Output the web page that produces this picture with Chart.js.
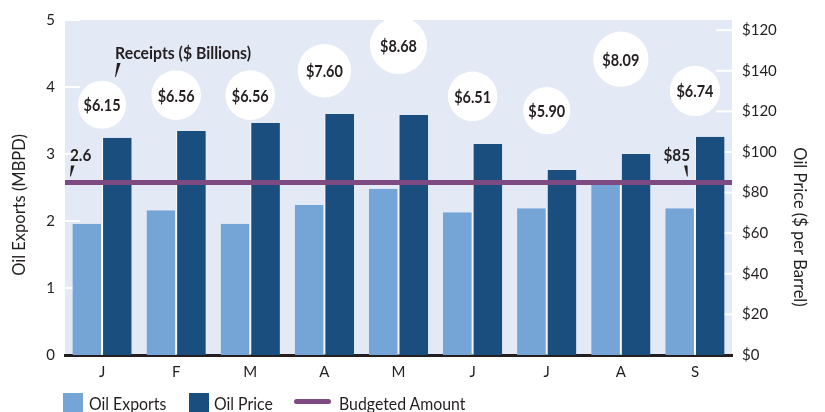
<!DOCTYPE html>
<html><head><meta charset="utf-8">
<script src="https://cdn.jsdelivr.net/npm/chart.js@4/dist/chart.umd.min.js"></script>
<style>
html,body{margin:0;padding:0;background:#fff;}
#wrap{position:relative;width:825px;height:412px;overflow:hidden;font-family:Lato,sans-serif;color:#231f20;}
#c{position:absolute;left:0;top:0;}
.lg{position:absolute;top:393px;font-size:18px;line-height:20px;white-space:nowrap;transform:scaleX(0.88);transform-origin:0 0;}
.sw{position:absolute;top:393px;width:20px;height:20px;}
.ln{position:absolute;top:399px;height:5px;border-radius:3px;background:#7d4b82;}
</style></head>
<body><div id="wrap"><canvas id="c" width="825" height="412"></canvas>
<div class="sw" style="left:63px;background:#74a5d6"></div><div class="lg" style="left:89px">Oil Exports</div>
<div class="sw" style="left:189px;background:#1a4e7e"></div><div class="lg" style="left:214px">Oil Price</div>
<div class="ln" style="left:294px;width:37px"></div><div class="lg" style="left:339px">Budgeted Amount</div>
</div>
<script>
const months = ['J','F','M','A','M','J','J','A','S'];
const oilExports = [1.96, 2.16, 1.96, 2.24, 2.48, 2.13, 2.19, 2.54, 2.19];
const oilPrice = [107.0, 110.3, 114.3, 118.7, 118.2, 103.9, 91.1, 99.0, 107.5];
const receipts = [6.15, 6.56, 6.56, 7.60, 8.68, 6.51, 5.90, 8.09, 6.74];
const budgetedPrice = 85;
const budgetedExports = 2.6;
const leftTickLabels = ['0','1','2','3','4','5'];
const rightTickLabels = ['$0','$20','$40','$60','$80','$100','$120','$140','$120'];
const receiptLabels = receipts.map(v => '$' + v.toFixed(2));

const TXT = '#231f20';
Chart.defaults.font.family = 'Lato, sans-serif';
Chart.defaults.color = TXT;

const plotBg = {
  id: 'plotBg',
  beforeDraw(chart) {
    const {ctx, chartArea: a} = chart;
    ctx.save();
    ctx.fillStyle = '#e4e9f6';
    ctx.fillRect(a.left, a.top, a.right - a.left, a.bottom - a.top);
    ctx.restore();
  }
};

const tickMarks = {
  id: 'tickMarks',
  beforeDatasetsDraw(chart) {
    const {ctx, chartArea: a, scales} = chart;
    ctx.save();
    ctx.strokeStyle = '#ffffff';
    ctx.lineWidth = 2;
    scales.y.ticks.forEach((t, i) => {
      if (t.value === 0) return;
      const yy = scales.y.getPixelForTick(i);
      ctx.beginPath(); ctx.moveTo(a.left, yy); ctx.lineTo(a.left + 15, yy); ctx.stroke();
    });
    scales.yP.ticks.forEach((t, i) => {
      if (t.value === 0) return;
      const yy = scales.yP.getPixelForTick(i);
      ctx.beginPath(); ctx.moveTo(a.right - 16, yy); ctx.lineTo(a.right, yy); ctx.stroke();
    });
    ctx.restore();
  }
};

// Budgeted amount: horizontal reference line across the plot, placed with the price scale
const budgetLine = {
  id: 'budgetLine',
  afterDatasetsDraw(chart) {
    const {ctx, chartArea: a, scales} = chart;
    const yb = scales.yP.getPixelForValue(budgetedPrice);
    ctx.save();
    ctx.strokeStyle = '#7d4b82';
    ctx.lineWidth = 5;
    ctx.beginPath(); ctx.moveTo(a.left, yb); ctx.lineTo(a.right, yb); ctx.stroke();
    ctx.restore();
  }
};

function wedge(ctx, xt, yt, xb, yb) {
  ctx.beginPath();
  ctx.moveTo(xt, yt);
  ctx.lineTo(xt + 3.5, yt);
  ctx.lineTo(xb + 0.8, yb);
  ctx.lineTo(xb, yb);
  ctx.closePath();
  ctx.fill();
}

function text(ctx, str, x, y, sx, rot) {
  ctx.save();
  ctx.translate(x, y);
  if (rot) ctx.rotate(rot);
  ctx.scale(sx, 1);
  ctx.fillText(str, 0, 0);
  ctx.restore();
}

const annotate = {
  id: 'annotate',
  afterDatasetsDraw(chart) {
    const {ctx, chartArea: a, scales} = chart;
    const meta = chart.getDatasetMeta(2);
    ctx.save();
    ctx.fillStyle = TXT;
    ctx.textAlign = 'center';
    ctx.textBaseline = 'middle';
    ctx.font = 'bold 17px Lato, sans-serif';
    meta.data.forEach((el, i) => text(ctx, receiptLabels[i], el.x, el.y + 1, 0.85));
    const first = meta.data[0];
    ctx.textAlign = 'left';
    text(ctx, 'Receipts ($ Billions)', first.x + 13, a.top + 34, 0.93);
    wedge(ctx, first.x + 15, a.top + 43, first.x + 13, a.top + 57);
    const yb = scales.yP.getPixelForValue(budgetedPrice);
    text(ctx, budgetedExports.toFixed(1), a.left + 5, yb - 27, 0.9);
    wedge(ctx, a.left + 6, yb - 17, a.left + 5, yb - 6);
    ctx.textAlign = 'right';
    text(ctx, '$' + budgetedPrice, a.right - 42, yb - 27, 0.9);
    wedge(ctx, a.right - 48, yb - 17, a.right - 45, yb - 6);
    // axis titles
    ctx.font = '16.5px Lato, sans-serif';
    ctx.textAlign = 'center';
    text(ctx, 'Oil Exports (MBPD)', 20, 205, 1, -Math.PI / 2);
    text(ctx, 'Oil Price ($ per Barrel)', 799, 227, 1, Math.PI / 2);
    ctx.restore();
  }
};

new Chart(document.getElementById('c'), {
  type: 'bar',
  data: {
    labels: months,
    datasets: [
      {
        label: 'Oil Exports', data: oilExports, xAxisID: 'x', yAxisID: 'y',
        backgroundColor: '#74a5d6', borderColor: '#ffffff',
        borderWidth: {top: 0, left: 0, bottom: 0, right: 1}, borderSkipped: false,
        barPercentage: 1, categoryPercentage: 0.8, order: 2
      },
      {
        label: 'Oil Price', data: oilPrice, xAxisID: 'x', yAxisID: 'yP',
        backgroundColor: '#1a4e7e', borderColor: '#ffffff',
        borderWidth: {top: 0, left: 1, bottom: 0, right: 0}, borderSkipped: false,
        barPercentage: 1, categoryPercentage: 0.8, order: 2
      },
      {
        type: 'bubble', label: 'Receipts', grouped: false,
        data: receipts.map((v, i) => ({x: i, y: v})),
        xAxisID: 'x', yAxisID: 'yB',
        backgroundColor: '#ffffff', borderWidth: 0,
        radius: ctx => 9.7 * Math.sqrt(receipts[ctx.dataIndex]),
        hoverRadius: 0, order: 3
      }
    ]
  },
  options: {
    responsive: false,
    animation: false,
    devicePixelRatio: 1,
    events: [],
    layout: {autoPadding: false, padding: {top: 20, left: 0, right: 0, bottom: 0}},
    plugins: {legend: {display: false}, tooltip: {enabled: false}},
    scales: {
      x: {
        type: 'category', position: 'bottom', offset: true, z: 1,
        grid: {display: false, drawTicks: false},
        border: {display: true, color: '#231f20', width: 3},
        ticks: {font: {size: 15}, padding: 8, color: TXT, maxRotation: 0},
        afterFit: s => { s.height = 57; }
      },
      y: {
        type: 'linear', position: 'left', min: 0, max: 5,
        grid: {display: false, drawTicks: false},
        border: {display: false},
        ticks: {stepSize: 1, padding: 10, font: {size: 15}, color: TXT,
                callback: (v, i) => leftTickLabels[i]},
        afterFit: s => { s.width = 65; }
      },
      yP: {
        type: 'linear', position: 'right', min: 0, max: 165,
        grid: {display: false, drawTicks: false},
        border: {display: false},
        ticks: {stepSize: 20, includeBounds: false, padding: 10, font: {size: 15}, color: TXT,
                callback: (v, i) => rightTickLabels[i]},
        afterFit: s => { s.width = 93; }
      },
      yB: {type: 'linear', display: false, min: -4.51, max: 9.76}
    }
  },
  plugins: [plotBg, tickMarks, budgetLine, annotate]
});
</script>
</body></html>
